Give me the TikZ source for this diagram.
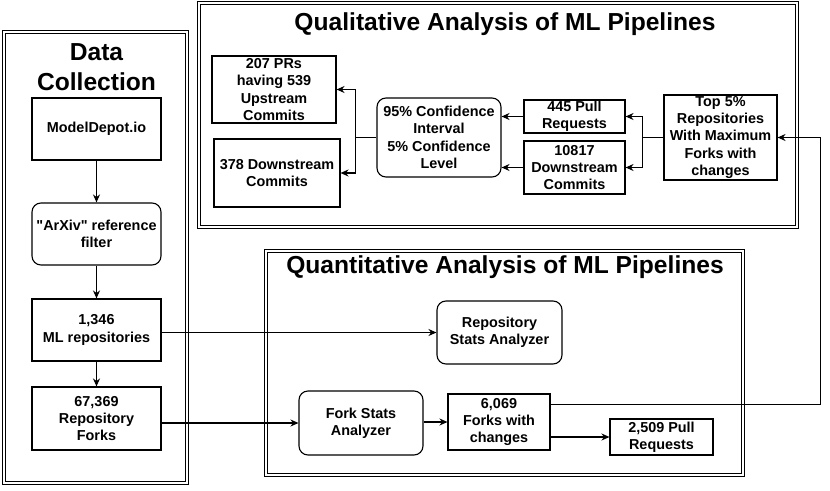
\documentclass[tikz,border=0pt]{standalone}
\usepackage{fontspec}
\setmainfont{Liberation Sans}
\usetikzlibrary{arrows.meta,calc,positioning}

\begin{document}
\begin{tikzpicture}[x=1pt,y=-1pt,
  txt/.style={font=\fontsize{14.4}{17.3}\selectfont\bfseries, align=center},
  box/.style={txt, draw, line width=1.1pt, inner sep=0pt},
  rbox/.style={box, rounded corners=9pt},
  frame/.style={draw, double, double distance=2pt, line width=0.8pt},
  ttl/.style={font=\fontsize{24.6}{29.5}\selectfont\bfseries, align=center},
  arr/.style={-{Stealth[length=8pt,width=7pt]}, line width=1.1pt}]
\useasboundingbox (0,0) rectangle (830,490);

% the three panels
\draw[frame] (3.8,31.8) rectangle (187.2,483.2);
\draw[frame] (199,3) rectangle (797,227);
\draw[frame] (266,251) rectangle (743,475);

\node[ttl, anchor=base] (dctitle) at (96.5,90) {Data\\Collection};
\node[ttl, anchor=base] (qltitle) at (505,30) {Qualitative Analysis of ML Pipelines};
\node[ttl, anchor=base] (qntitle) at (505,273) {Quantitative Analysis of ML Pipelines};

% data collection
\node[box, minimum width=129, minimum height=62] (modeldepot) at (96.5,129) {ModelDepot.io};
\node[rbox, minimum width=129, minimum height=62] (arxiv) at (96.5,234) {\textquotedbl ArXiv\textquotedbl{} reference\\filter};
\node[box, minimum width=129, minimum height=62] (mlrepo) at (96.5,330) {1,346\\ML repositories};
\node[box, minimum width=129, minimum height=63] (forks) at (96.5,418.5) {67,369\\Repository\\Forks};

\draw[arr] (modeldepot) -- (arxiv);
\draw[arr] (arxiv) -- (mlrepo);
\draw[arr] (mlrepo) -- (forks);

% qualitative analysis
\node[box, minimum width=124, minimum height=67] (pr207) at (274,89.5) {207 PRs\\having 539\\Upstream\\Commits};
\node[box, minimum width=126, minimum height=68] (ds378) at (277,173) {378 Downstream\\Commits};
\node[rbox, minimum width=124, minimum height=79] (conf) at (439,137.5) {95\% Confidence\\Interval\\5\% Confidence\\Level};
\node[box, minimum width=101, minimum height=33] (pr445) at (574.5,116.5) {445 Pull\\Requests};
\node[box, minimum width=101, minimum height=53] (ds10817) at (574.5,167.5) {10817\\Downstream\\Commits};
\node[box, minimum width=113, minimum height=85] (top5) at (720.5,137.5) {Top 5\%\\Repositories\\With Maximum\\Forks with\\changes};

\coordinate (jr) at ($(top5.west)+(-21,0)$);
\draw[line width=1.1pt] (top5.west) -- (jr);
\draw[arr] (jr) |- (pr445.east);
\draw[arr] (jr) |- (ds10817.east);
\draw[arr] (pr445.west) -- (conf.east |- pr445.west);
\draw[arr] (ds10817.west) -- (conf.east |- ds10817.west);
\coordinate (jl) at ($(conf.west)+(-21,0)$);
\draw[line width=1.1pt] (conf.west) -- (jl);
\draw[arr] (jl) |- (pr207.east);
\draw[arr] (jl) |- (ds378.east);

% quantitative analysis
\node[rbox, minimum width=125, minimum height=63] (repostats) at (499.5,332.5) {Repository\\Stats Analyzer};
\node[rbox, minimum width=124, minimum height=64] (forkstats) at (361,423) {Fork Stats\\Analyzer};
\node[box, minimum width=102, minimum height=56] (f6069) at (499,422) {6,069\\Forks with\\changes};
\node[box, minimum width=103, minimum height=36] (pr2509) at (661.5,437) {2,509 Pull\\Requests};

\draw[arr] (mlrepo.east |- repostats.west) -- (repostats.west);
\draw[arr] (forks.east |- forkstats.west) -- (forkstats.west);
\draw[arr] (forkstats.east |- f6069.west) -- (f6069.west);
\draw[arr] (f6069.east |- pr2509.west) -- (pr2509.west);

\coordinate (back) at ($(top5.east)+(43,0)$);
\draw[arr] ($(f6069.north east)+(0,11)$) -| (back) -- (top5.east);
\end{tikzpicture}
\end{document}
